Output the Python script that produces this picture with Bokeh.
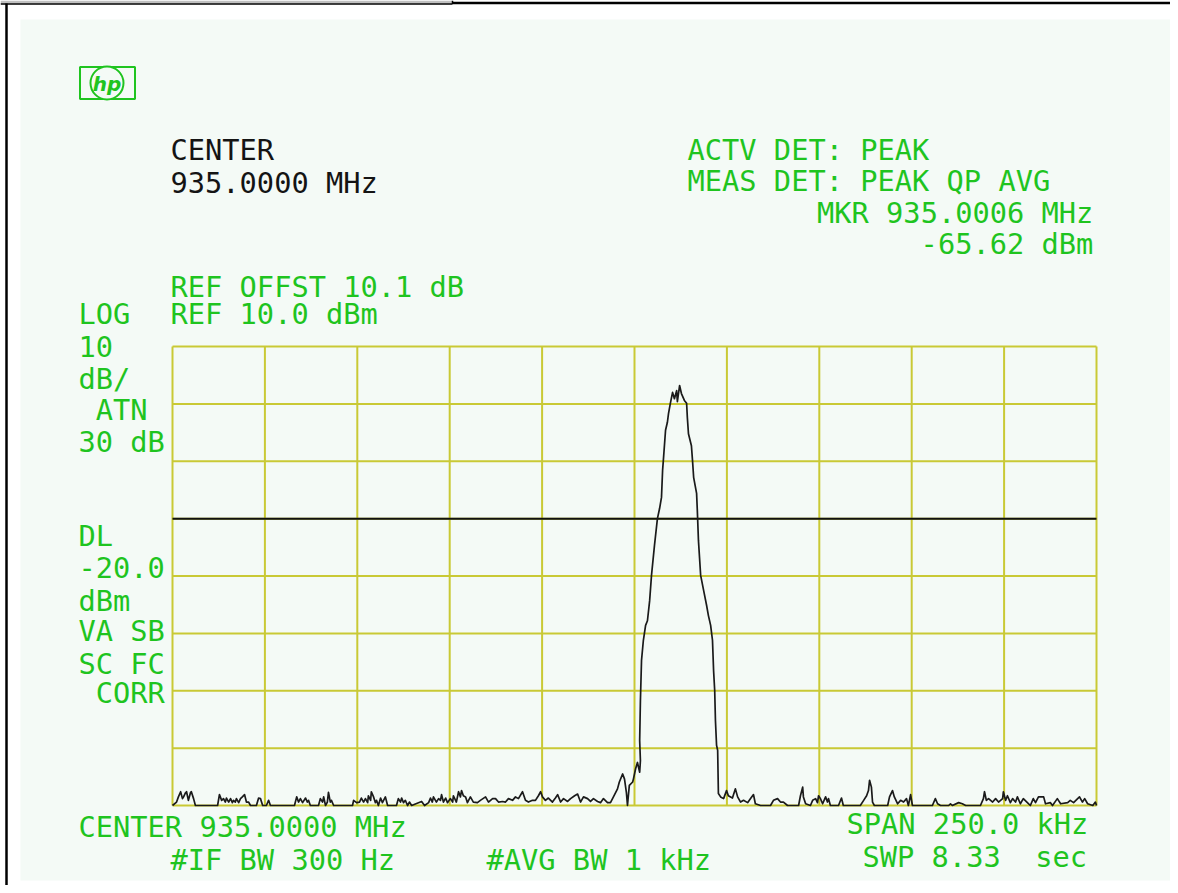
from bokeh.plotting import figure
from bokeh.models import Range1d
from bokeh.core.properties import value
from bokeh.embed import file_html
from bokeh.resources import INLINE

# ---------------- data (read from the screen dump) ----------------
# frequency offset from centre 935.0000 MHz, in kHz; level in dBm
freq_khz = [
    -125.0, -123.9, -123.4, -122.8, -122.3, -122.0, -121.5, -121.2, -120.7, -120.1, -119.9, -119.3, -118.8,
    -112.8, -112.3, -111.7, -111.2, -110.7, -110.4, -109.8, -109.3, -108.8, -108.5, -108.0, -107.7, -107.1,
    -106.6, -106.1, -105.5, -105.0, -104.4, -103.9, -102.3, -101.7, -101.2, -100.6, -99.6, -99.0, -98.5,
    -92.0, -91.4, -90.9, -90.4, -89.8, -89.0, -88.5, -88.2, -87.7, -85.5, -85.0, -84.4, -84.1, -83.6,
    -83.1, -82.8, -82.3, -82.0, -81.4, -76.3, -76.0, -75.2, -74.4, -73.9, -73.3, -72.8, -72.2, -72.0,
    -71.4, -71.2, -70.6, -70.1, -69.8, -69.3, -68.7, -68.2, -67.4, -66.8, -64.4, -63.9, -63.3, -63.0,
    -62.5, -62.0, -61.4, -60.9, -60.3, -57.6, -56.8, -55.7, -55.2, -54.7, -54.4, -53.6, -53.0, -52.5,
    -52.2, -51.7, -51.1, -50.6, -49.8, -49.2, -49.0, -48.2, -47.6, -47.1, -46.8, -46.3, -45.7, -45.2,
    -44.4, -43.6, -42.5, -41.7, -40.3, -39.5, -38.4, -37.6, -36.8, -35.7, -34.9, -34.1, -33.0, -32.2,
    -31.4, -30.3, -29.5, -28.7, -27.6, -26.8, -26.0, -25.4, -24.9, -24.1, -23.3, -22.2, -21.4, -20.8,
    -20.0, -19.2, -18.1, -17.3, -16.2, -15.4, -14.6, -13.8, -12.7, -11.9, -11.1, -10.0, -9.2, -8.4,
    -7.3, -6.5, -5.7, -4.6, -4.1, -3.2, -2.7, -2.2, -1.9, -1.4, -0.5, -0.3, 0.3, 0.8, 1.4, 1.6,
    1.4, 1.6, 1.9, 2.4, 3.0, 3.5, 4.1, 4.6, 5.4, 6.2, 6.8, 7.3, 7.6, 7.8, 8.4, 8.9, 9.2, 9.7,
    10.3, 10.8, 11.4, 11.6, 12.2, 12.7, 13.5, 14.1, 14.3, 14.6, 15.4, 15.7, 16.0, 16.8, 17.0, 17.3,
    17.9, 18.7, 19.5, 20.0, 20.6, 21.1, 21.4, 21.7, 21.9, 22.2, 22.5, 22.7,
    23.3, 24.1, 24.9, 25.4, 26.5, 27.3, 27.9, 28.7, 29.5, 30.6, 31.4, 32.2, 32.7, 34.1, 36.8, 37.6,
    38.7, 39.5, 40.3, 41.4, 44.4, 44.9, 45.5, 45.7, 46.3, 47.6, 48.2, 49.0, 49.5, 49.8, 50.3, 50.9,
    51.7, 52.2, 52.5, 53.0, 55.2, 56.0, 56.5, 61.1, 62.0, 62.8, 63.3, 63.6, 64.1, 64.4, 64.9, 68.5,
    69.0, 69.8, 70.3, 71.2, 72.0, 72.8, 73.6, 74.1, 74.7, 75.2, 80.6, 81.4, 82.0, 82.8, 85.0, 85.5,
    86.0, 87.7, 88.7, 89.6, 93.6, 94.4, 94.7, 95.2, 95.8, 96.9, 97.7, 98.5, 99.6, 99.8, 100.4, 100.9,
    101.7, 102.3, 103.1, 103.6, 104.4, 105.2, 106.3, 107.1, 107.9, 108.5, 109.3, 110.7, 111.2, 112.5,
    113.1, 114.4, 115.3, 117.2, 117.9, 118.8, 119.9, 120.4, 121.2, 121.8, 122.6, 124.0, 124.7, 125.0,
]
level_dbm = [
    -70.0, -69.4, -68.5, -67.6, -68.8, -68.5, -67.8, -67.6, -69.1, -67.7, -67.6, -68.8, -70.0,
    -70.0, -68.1, -69.1, -68.8, -69.4, -68.7, -69.4, -68.8, -69.5, -69.1, -69.4, -68.8, -69.5,
    -68.8, -68.5, -68.1, -69.4, -69.4, -70.0, -70.0, -68.7, -68.8, -70.0, -70.0, -69.1, -70.0,
    -70.0, -68.5, -69.4, -68.8, -69.5, -68.7, -69.4, -69.1, -70.0, -70.0, -68.8, -69.4, -68.5, -70.0,
    -69.4, -67.7, -69.4, -69.1, -70.0, -70.0, -69.1, -69.5, -69.4, -68.7, -69.4, -68.8, -69.5, -68.3,
    -69.1, -67.6, -68.5, -69.5, -69.1, -70.0, -68.7, -69.5, -68.5, -70.0, -70.0, -68.8, -69.4, -68.7,
    -69.5, -69.1, -70.0, -69.4, -70.0, -69.3, -70.0, -69.5, -68.7, -69.4, -68.5, -69.4, -68.8, -69.1,
    -68.1, -69.4, -68.7, -69.5, -68.8, -69.4, -68.3, -69.4, -67.6, -68.5, -67.4, -68.3, -68.5, -69.5,
    -68.5, -69.4, -69.5, -69.1, -68.5, -69.4, -68.8, -68.8, -69.4, -69.3, -69.4, -68.8, -69.1, -68.5,
    -68.8, -67.6, -69.1, -69.4, -69.1, -69.1, -68.3, -67.6, -68.5, -69.1, -68.7, -69.4, -68.7, -68.1,
    -69.4, -68.8, -69.3, -68.8, -68.3, -68.0, -69.4, -68.5, -68.8, -69.3, -68.8, -69.3, -69.5, -68.8,
    -69.5, -69.5, -68.5, -67.1, -65.9, -64.5, -65.4, -67.7, -70.0, -66.5, -65.9, -65.4, -63.6, -62.5, -64.2, -62.2,
    -58.7, -51.7, -44.7, -41.2, -38.6, -37.8, -34.3, -29.9, -24.7, -20.0, -18.2, -16.3, -11.6, -9.9, -4.6, -3.2, -1.7, 0.1,
    2.0, 0.9, 2.3, 0.4, 3.2, 1.8, 0.6, 0.1, -2.4, -5.2, -7.3, -9.9, -12.8, -15.6, -18.6, -23.8,
    -29.9, -32.5, -35.1, -36.9, -38.6, -41.2, -46.5, -50.0, -55.2, -59.5, -60.4, -67.9,
    -68.5, -68.8, -67.4, -68.3, -68.7, -67.1, -68.5, -69.4, -69.1, -69.5, -68.8, -68.1, -69.7, -70.0, -70.0, -69.1,
    -68.8, -69.4, -69.4, -70.0, -70.0, -68.3, -66.8, -68.5, -69.7, -70.0, -69.1, -68.8, -69.5, -68.3, -68.8, -69.7,
    -68.5, -69.4, -68.8, -70.0, -70.0, -68.7, -70.0, -70.0, -69.1, -68.3, -67.4, -65.6, -66.8, -69.4, -70.0, -70.0,
    -68.5, -67.4, -68.5, -69.7, -69.1, -69.4, -68.8, -70.0, -68.1, -70.0, -70.0, -68.8, -69.7, -70.0, -70.0, -69.7,
    -70.0, -69.5, -69.7, -70.0, -70.0, -68.8, -67.6, -69.1, -68.8, -69.4, -68.8, -69.4, -68.8, -67.6, -69.1, -68.3,
    -69.5, -68.8, -69.4, -68.5, -69.7, -68.8, -69.5, -70.0, -68.8, -69.5, -68.5, -68.5, -69.7, -69.5,
    -70.0, -68.8, -69.7, -69.5, -69.1, -69.5, -68.8, -68.5, -69.4, -68.8, -69.7, -70.0, -69.4, -70.0,
]

freq_ticks = [-125, -100, -75, -50, -25, 0, 25, 50, 75, 100, 125]      # 25 kHz/div, span 250 kHz
level_ticks = [10, 0, -10, -20, -30, -40, -50, -60, -70]               # REF 10 dBm, 10 dB/div
display_line_dbm = -20.0

black_texts = ["CENTER", "935.0000 MHz"]
green_texts = [
    "ACTV DET: PEAK", "MEAS DET: PEAK QP AVG", "MKR 935.0006 MHz", "-65.62 dBm",
    "REF OFFST 10.1 dB", "REF 10.0 dBm",
    "LOG", "10", "dB/", "ATN", "30 dB", "DL", "-20.0", "dBm", "VA SB", "SC FC", "CORR",
    "CENTER 935.0000 MHz", "#IF BW 300 Hz", "#AVG BW 1 kHz", "SPAN 250.0 kHz", "SWP 8.33 \u00a0sec",
]

# ---------------- layout (pixels inside the figure) ----------------
W, H = 1170, 885
GL, GR, GT, GB = 172, 1096, 346, 805     # grid box
GREEN = "#1fc41f"
GRIDC = "#c9c935"
PANEL = "#f4faf6"
FONT = value("DejaVu Sans Mono")
FS = "28.7px"
DY = -10   # baseline correction

sx = (freq_ticks[-1] - freq_ticks[0]) / (GR - GL)
x_start = freq_ticks[0] - GL * sx
sy = (level_ticks[0] - level_ticks[-1]) / (GB - GT)
y_top = level_ticks[0] + GT * sy

p = figure(width=W, height=H, output_backend="svg", toolbar_location=None,
           x_range=Range1d(x_start, x_start + W * sx),
           y_range=Range1d(y_top - H * sy, y_top),
           x_axis_location=None, y_axis_location=None, title=None,
           min_border=0, min_border_left=0, min_border_right=0,
           min_border_top=0, min_border_bottom=0)
p.extra_x_ranges = {"px": Range1d(0, W)}
p.extra_y_ranges = {"px": Range1d(H, 0)}
p.grid.visible = False
p.outline_line_color = None
p.background_fill_color = "white"
p.border_fill_color = "white"

PX = dict(x_range_name="px", y_range_name="px")

# outer frame, tab and panel
p.quad(left=[20], right=[1172], top=[19], bottom=[880], fill_color=PANEL, line_color=None, **PX)
p.quad(left=[0], right=[452], top=[0], bottom=[3], fill_color="#c0c0c0", line_color=None, **PX)
p.segment(x0=[0, 452, 452, 6], y0=[3.5, 0, 2.5, 3], x1=[452, 452, W, 6], y1=[3.5, 3.5, 2.5, H],
          line_color="black", line_width=[1.5, 1.5, 2.5, 2.5], **PX)

# HP logo
p.quad(left=[79.5], right=[134.5], top=[66.5], bottom=[98.5], fill_color=None, line_color=GREEN, line_width=2, **PX)
p.scatter(x=[106.5], y=[82.5], marker="circle", size=33, fill_color=PANEL, line_color=GREEN, line_width=2, **PX)
p.text(x=[106.5], y=[83], text=["hp"], text_font=value("DejaVu Sans"), text_font_size="20px",
       text_font_style="bold italic", text_color=GREEN, text_align="center", text_baseline="middle", **PX)

# graticule
p.segment(x0=freq_ticks, y0=[level_ticks[-1]] * len(freq_ticks), x1=freq_ticks,
          y1=[level_ticks[0]] * len(freq_ticks), line_color=GRIDC, line_width=2)
p.segment(x0=[freq_ticks[0]] * len(level_ticks), y0=level_ticks, x1=[freq_ticks[-1]] * len(level_ticks),
          y1=level_ticks, line_color=GRIDC, line_width=2)

# display line
p.segment(x0=[freq_ticks[0]], y0=[display_line_dbm], x1=[freq_ticks[-1]], y1=[display_line_dbm],
          line_color="#111111", line_width=2)

# trace
p.line(freq_khz, level_dbm, line_color="#1a1a1a", line_width=1.7, line_join="round")

# annotation texts
p.text(x=[170, 170], y=[159 + DY, 192 + DY], text=black_texts, text_font=FONT, text_font_size=FS,
       text_color="#141414", text_align="left", text_baseline="alphabetic", **PX)

adv = 17.27
gx = [687, 687, 816.5, 816.5 + 6 * adv,
      170, 170,
      78, 78, 78, 78 + adv, 78, 78, 78, 78, 78, 78, 78 + adv,
      78, 170, 486, 846, 862]
gy = [159, 190, 222, 253,
      296, 323,
      323, 356, 388, 419, 451, 545, 577, 610, 640, 673, 702,
      836, 869, 869, 833, 866]
p.text(x=gx, y=[v + DY for v in gy], text=green_texts, text_font=FONT, text_font_size=FS, text_color=GREEN,
       text_align="left", text_baseline="alphabetic", **PX)

open("out.html", "w").write(file_html(p, INLINE))
